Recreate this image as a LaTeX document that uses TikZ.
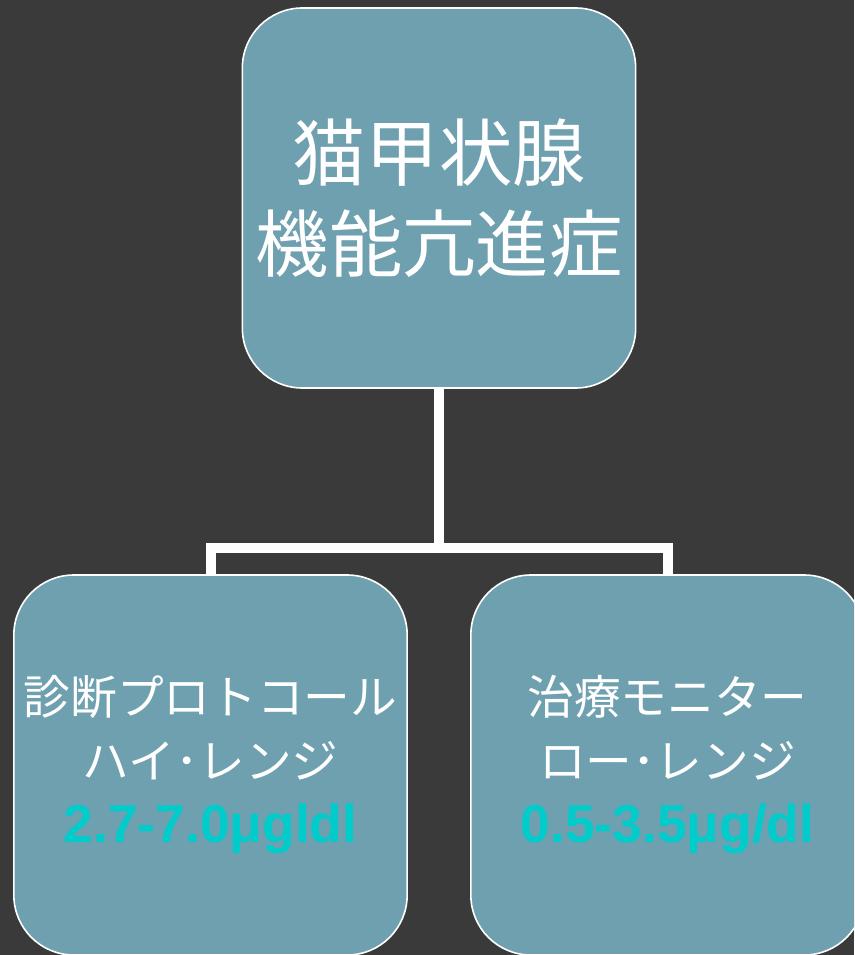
\documentclass[tikz,border=0pt]{standalone}
\usepackage{fontspec}
\setmainfont{Noto Sans CJK JP}
\newfontfamily\numfont{Liberation Sans}
\usetikzlibrary{positioning}

\definecolor{slide}{HTML}{3A3A3A}
\definecolor{boxfill}{HTML}{6FA0B0}
\definecolor{rangecol}{HTML}{00CCCC}

\tikzset{
	box/.style={draw=white, line width=1.2pt, fill=boxfill, rounded corners=45pt,
		minimum width=295pt, minimum height=285pt, inner sep=0pt,
		align=center, text=white},
	bigtxt/.style={font=\fontsize{55}{68}\selectfont},
	smalltxt/.style={font=\fontsize{35}{48}\selectfont},
	link/.style={draw=white, line width=7.5pt, line join=miter}
}
\newcommand{\rangetxt}[1]{{\numfont\bfseries\fontsize{40}{48}\selectfont\color{rangecol}#1}}

\begin{document}
\begin{tikzpicture}[x=0.75pt, y=-0.75pt]

	\fill[slide] (0,0) rectangle (854,955);
	\useasboundingbox (0,0) rectangle (854,955);
	\clip (0,0) rectangle (854,955);

	\node[box, bigtxt] (thyro) at (439,198) {猫甲状腺\\機能亢進症};

	\node[box, smalltxt] (diag) at (210.5,765) {診断プロトコール\\ハイ･レンジ\\\rangetxt{2.7-7.0μgldl}};
	\node[box, smalltxt] (treat) at (667.5,765) {治療モニター\\ロー･レンジ\\\rangetxt{0.5-3.5μg/dl}};

	\coordinate (fork) at (439,548);
	\draw[link] (thyro.south) -- (fork);
	\draw[link] (fork) -| (diag.north);
	\draw[link] (fork) -| (treat.north);

\end{tikzpicture}
\end{document}
